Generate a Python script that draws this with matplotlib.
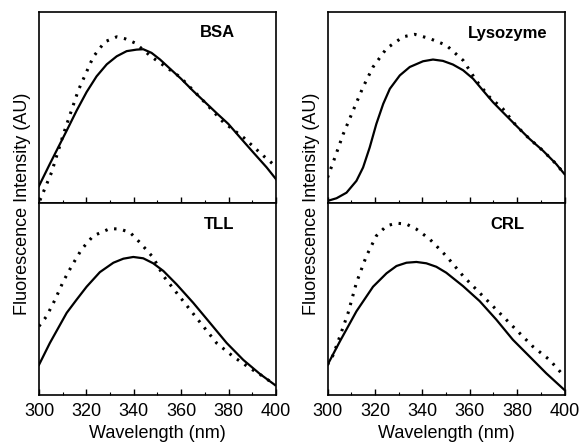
import matplotlib.pyplot as plt
from matplotlib.ticker import MultipleLocator

plt.rcParams['font.family'] = ['Liberation Sans', 'DejaVu Sans']

# BSA
bsa_x = [300, 304.6, 311.7, 315.9, 320.1, 324.3, 328.6, 332.8, 337, 341.2, 344, 347.5, 351.1, 355.3,
         359.9, 365.1, 369.3, 375, 379.9, 384.8, 390.4, 396.1, 400]
bsa_solid = [0.089, 0.205, 0.379, 0.484, 0.581, 0.663, 0.726, 0.768, 0.795, 0.803, 0.805, 0.786, 0.751, 0.703,
             0.651, 0.586, 0.537, 0.47, 0.414, 0.344, 0.265, 0.186, 0.125]
bsa_dx = [300.4, 305.3, 310.3, 316.6, 322.9, 327.8, 332.8, 336.3, 340.5, 347.5, 359.5, 367.9, 377.8, 386.2, 394.7, 399.6]
bsa_dot = [0.014, 0.16, 0.36, 0.59, 0.765, 0.844, 0.87, 0.86, 0.838, 0.765, 0.66, 0.554, 0.423, 0.344, 0.247, 0.195]

# Lysozyme
lys_x = [300, 303.8, 308, 312.2, 315, 317.8, 320.6, 323.5, 326.3, 330.5, 334.7, 340.3, 344.5, 348.7, 352.9,
         357.2, 361.4, 365.6, 369.8, 374, 379.6, 385.3, 390.9, 396.5, 400]
lys_solid = [0.011, 0.025, 0.054, 0.116, 0.186, 0.291, 0.414, 0.519, 0.598, 0.668, 0.712, 0.742, 0.751, 0.744, 0.725,
             0.695, 0.651, 0.589, 0.528, 0.475, 0.405, 0.335, 0.274, 0.204, 0.151]
lys_dx = [300, 303.1, 306.6, 310.8, 315, 319.2, 324.9, 331.9, 336.8, 343.1, 350.1, 357.2, 362.8, 368.4, 374,
          379.6, 385.3, 390.9, 396.5, 400]
lys_dot = [0.133, 0.238, 0.36, 0.484, 0.607, 0.712, 0.809, 0.87, 0.883, 0.861, 0.826, 0.747, 0.64, 0.554, 0.493,
           0.405, 0.335, 0.274, 0.204, 0.151]

# TLL
tll_x = [300, 304.6, 311.7, 315.9, 320.1, 325.7, 331.4, 335.6, 339.8, 344, 348.2, 352.5, 358.1, 365.1,
         372.2, 379.2, 386.2, 393.2, 399.6]
tll_solid = [0.157, 0.271, 0.428, 0.497, 0.564, 0.64, 0.689, 0.71, 0.719, 0.712, 0.686, 0.646, 0.576, 0.48,
             0.375, 0.271, 0.183, 0.11, 0.052]
tll_dx = [300, 303.2, 306.8, 310.3, 313.8, 318, 322.9, 330, 334.2, 338.4, 342.6, 348.2, 352.5, 358.1, 363.7,
          369.3, 375, 382, 389, 394.7, 399.6]
tll_dot = [0.358, 0.41, 0.497, 0.593, 0.672, 0.759, 0.829, 0.867, 0.864, 0.847, 0.794, 0.716, 0.62, 0.532, 0.445,
           0.358, 0.27, 0.2, 0.14, 0.096, 0.052]

# CRL
crl_x = [300, 305.2, 312.2, 319.2, 324.9, 329.1, 333.3, 337.5, 341.7, 345.9, 350.1, 357.2, 364.2, 371.2,
         378.2, 385.3, 392.3, 400]
crl_solid = [0.157, 0.279, 0.436, 0.564, 0.634, 0.672, 0.689, 0.693, 0.686, 0.668, 0.637, 0.567, 0.489, 0.393,
             0.288, 0.2, 0.113, 0.026]
crl_dx = [300, 302.4, 305.2, 308.7, 312.2, 316.4, 320.6, 324.9, 329.1, 333.3, 337.5, 343.1, 350.1, 357.2,
          364.2, 371.2, 379.6, 386.6, 393.7, 400]
crl_dot = [0.157, 0.209, 0.305, 0.428, 0.585, 0.724, 0.829, 0.881, 0.895, 0.89, 0.864, 0.812, 0.724, 0.62,
           0.532, 0.445, 0.34, 0.253, 0.183, 0.096]

panels = [
    ('BSA', bsa_x, bsa_solid, bsa_dx, bsa_dot),
    ('Lysozyme', lys_x, lys_solid, lys_dx, lys_dot),
    ('TLL', tll_x, tll_solid, tll_dx, tll_dot),
    ('CRL', crl_x, crl_solid, crl_dx, crl_dot),
]

fig = plt.figure(figsize=(5.8, 4.42), dpi=100)
lefts = [0.0672, 0.5647]
w = 0.4086
rects = [
    [lefts[0], 0.5407, w, 0.4322],
    [lefts[1], 0.5407, w, 0.4322],
    [lefts[0], 0.1063, w, 0.4344],
    [lefts[1], 0.1063, w, 0.4344],
]
label_pos = [(0.755, 0.89), (0.76, 0.885), (0.76, 0.89), (0.76, 0.89)]

for i, (name, sx, sy, dx, dy) in enumerate(panels):
    ax = fig.add_axes(rects[i])
    ax.plot(sx, sy, color='black', lw=1.6, solid_joinstyle='round')
    ax.plot(dx, dy, color='black', lw=2.2, linestyle=(0, (0.8, 2.2)), dash_capstyle='butt')
    ax.set_xlim(300, 400)
    ax.set_ylim(0, 1)
    ax.set_yticks([])
    ax.xaxis.set_major_locator(MultipleLocator(20))
    ax.xaxis.set_minor_locator(MultipleLocator(10))
    ax.tick_params(axis='x', which='major', direction='in', length=4, width=1, labelsize=13, pad=6)
    ax.tick_params(axis='x', which='minor', direction='in', length=2.5, width=0.8)
    for s in ax.spines.values():
        s.set_linewidth(1.2)
    if i < 2:
        ax.tick_params(axis='x', labelbottom=False)
    else:
        ax.set_xlabel('Wavelength (nm)', fontsize=13, labelpad=3)
    ax.text(*label_pos[i], name, transform=ax.transAxes, ha='center', va='center',
            fontsize=12, fontweight='bold')

fig.text(0.038, 0.54, 'Fluorescence Intensity (AU)', rotation=90, ha='center', va='center', fontsize=13)
fig.text(0.537, 0.54, 'Fluorescence Intensity (AU)', rotation=90, ha='center', va='center', fontsize=13)

fig.savefig('out.png', dpi=100)
